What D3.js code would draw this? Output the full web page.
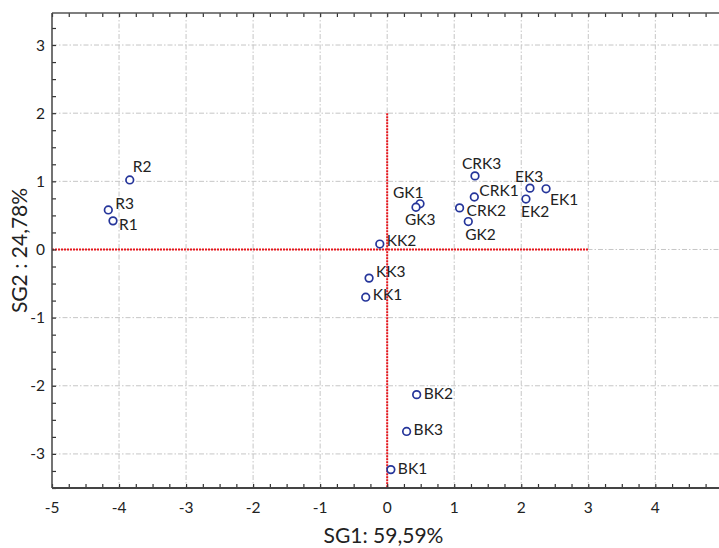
<!DOCTYPE html>
<html>
<head>
<meta charset="utf-8">
<script src="https://cdn.jsdelivr.net/npm/d3@7"></script>
<style>
  body { margin: 0; background: #fff; }
  svg text { font-family: Lato, "Open Sans", sans-serif; fill: #222; }
</style>
</head>
<body>
<svg width="719" height="548"></svg>
<script>
// data
var labels = ["R1", "R2", "R3", "GK1", "GK2", "GK3", "CRK1", "CRK2", "CRK3",
              "EK1", "EK2", "EK3", "KK1", "KK2", "KK3", "BK1", "BK2", "BK3"];
var sg1 = [-4.09, -3.84, -4.16, 0.49, 1.21, 0.43, 1.30, 1.08, 1.31,
           2.37, 2.07, 2.13, -0.32, -0.11, -0.27, 0.055, 0.44, 0.29];
var sg2 = [0.42, 1.02, 0.58, 0.67, 0.41, 0.62, 0.77, 0.61, 1.08,
           0.89, 0.74, 0.90, -0.70, 0.08, -0.42, -3.23, -2.13, -2.67];
var xTicks = [-5, -4, -3, -2, -1, 0, 1, 2, 3, 4];
var yTicks = [-3, -2, -1, 0, 1, 2, 3];

// label placement (dx, dy from the point)
var labelPos = {
  R1: [6, 9], R2: [3, -8], R3: [7, -1],
  GK1: [-27, -6], GK2: [-3, 18], GK3: [-11, 18],
  CRK1: [5, -1], CRK2: [7, 8], CRK3: [-13, -7],
  EK1: [4, 16], EK2: [-5, 18], EK3: [-15, -6],
  KK1: [7, 3], KK2: [7, 2], KK3: [7, -1],
  BK1: [7, 4], BK2: [7, 4], BK3: [7, 4]
};

var svg = d3.select("svg");

var x = d3.scaleLinear().domain([-5, 4.95]).range([52, 719]);
var y = d3.scaleLinear().domain([-3.5, 3.47]).range([488, 13]);

var pLeft = x(-5), pRight = x(4.95), pTop = y(3.47), pBottom = y(-3.5);

// grid
var grid = svg.append("g")
    .attr("stroke", "#c6c6c6")
    .attr("stroke-width", 1)
    .attr("stroke-dasharray", "5,2,1.5,2");

grid.selectAll(".vg")
  .data(xTicks.filter(function(d) { return d > -5; }))
  .enter().append("line")
    .attr("x1", function(d) { return x(d); })
    .attr("x2", function(d) { return x(d); })
    .attr("y1", pTop)
    .attr("y2", pBottom);

grid.selectAll(".hg")
  .data(yTicks)
  .enter().append("line")
    .attr("x1", pLeft)
    .attr("x2", pRight)
    .attr("y1", function(d) { return y(d); })
    .attr("y2", function(d) { return y(d); });

// red zero lines
svg.append("line")
    .attr("x1", x(-5)).attr("x2", x(3))
    .attr("y1", y(0)).attr("y2", y(0))
    .attr("stroke", "#e8141b")
    .attr("stroke-width", 2)
    .attr("stroke-dasharray", "2,1");

svg.append("line")
    .attr("x1", x(0)).attr("x2", x(0))
    .attr("y1", y(2)).attr("y2", y(-3.5))
    .attr("stroke", "#e8141b")
    .attr("stroke-width", 2)
    .attr("stroke-dasharray", "2,1");

// axes: minor ticks every 0.25, inward
var xMinor = d3.range(-5, 4.95, 0.25);
var yMinor = d3.range(-3.5, 3.48, 0.25);

var xAxisBottom = d3.axisTop(x).tickValues(xMinor).tickSize(4).tickFormat("");
var xAxisTop = d3.axisBottom(x).tickValues(xMinor).tickSize(4).tickFormat("");
var yAxisLeft = d3.axisRight(y).tickValues(yMinor).tickSize(4).tickFormat("");

function styleAxis(g) {
  g.select(".domain").remove();
  g.selectAll(".tick line").attr("stroke", "#333").attr("stroke-width", 1.2);
}

svg.append("g").attr("transform", "translate(0," + pBottom + ")").call(xAxisBottom).call(styleAxis);
svg.append("g").attr("transform", "translate(0," + pTop + ")").call(xAxisTop).call(styleAxis);
svg.append("g").attr("transform", "translate(" + pLeft + ",0)").call(yAxisLeft).call(styleAxis);

// frame lines
svg.append("line").attr("x1", pLeft).attr("x2", pRight).attr("y1", pBottom).attr("y2", pBottom)
    .attr("stroke", "#444").attr("stroke-width", 2);
svg.append("line").attr("x1", pLeft).attr("x2", pRight).attr("y1", pTop).attr("y2", pTop)
    .attr("stroke", "#555").attr("stroke-width", 1.5);
svg.append("line").attr("x1", pLeft).attr("x2", pLeft).attr("y1", pTop).attr("y2", pBottom)
    .attr("stroke", "#444").attr("stroke-width", 1.5);

// tick labels
svg.selectAll(".xl")
  .data(xTicks)
  .enter().append("text")
    .attr("x", function(d) { return x(d); })
    .attr("y", 513)
    .attr("text-anchor", "middle")
    .style("font-size", "15.5px")
    .text(function(d) { return d; });

svg.selectAll(".yl")
  .data(yTicks)
  .enter().append("text")
    .attr("x", 45)
    .attr("y", function(d) { return y(d) + 5.5; })
    .attr("text-anchor", "end")
    .style("font-size", "15.5px")
    .text(function(d) { return d; });

// axis titles
svg.append("text")
    .attr("x", (pLeft + pRight) / 2 - 2)
    .attr("y", 543)
    .attr("text-anchor", "middle")
    .style("font-size", "21px")
    .text("SG1: 59,59%");

svg.append("text")
    .attr("transform", "translate(27," + ((pTop + pBottom) / 2) + ") rotate(-90)")
    .attr("text-anchor", "middle")
    .style("font-size", "21px")
    .text("SG2 : 24,78%");

// points
var pts = labels.map(function(l, i) { return { name: l, a: sg1[i], b: sg2[i] }; });

svg.selectAll(".pt")
  .data(pts)
  .enter().append("circle")
    .attr("cx", function(d) { return x(d.a); })
    .attr("cy", function(d) { return y(d.b); })
    .attr("r", 3.8)
    .attr("fill", "#fff")
    .attr("stroke", "#25359a")
    .attr("stroke-width", 1.7);

svg.selectAll(".pl")
  .data(pts)
  .enter().append("text")
    .attr("x", function(d) { return x(d.a) + labelPos[d.name][0]; })
    .attr("y", function(d) { return y(d.b) + labelPos[d.name][1]; })
    .style("font-size", "15.5px")
    .text(function(d) { return d.name; });
</script>
</body>
</html>
